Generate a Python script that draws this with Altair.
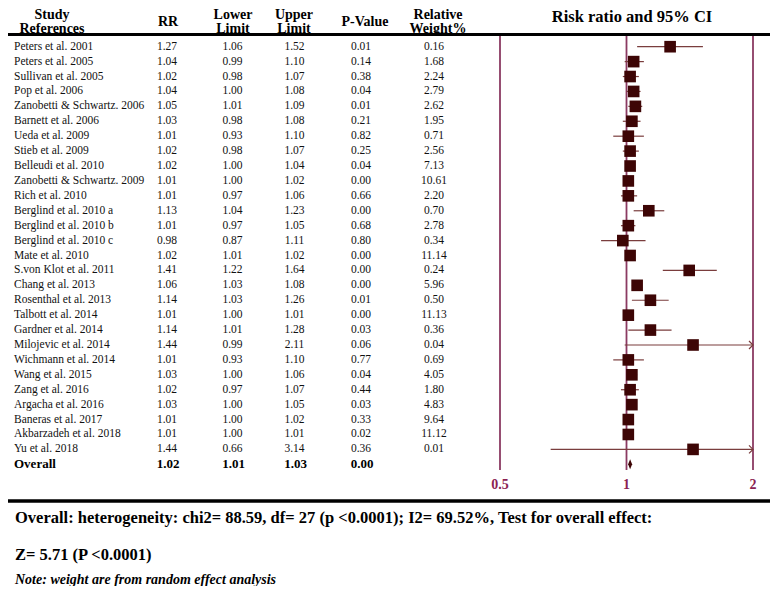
import altair as alt
import pandas as pd

# ---------------- data ----------------
studies = [
    "Peters et al. 2001", "Peters et al. 2005", "Sullivan et al. 2005", "Pop et al.  2006",
    "Zanobetti & Schwartz. 2006", "Barnett et al.  2006", "Ueda et al. 2009", "Stieb et al. 2009",
    "Belleudi et al. 2010", "Zanobetti & Schwartz. 2009", "Rich et al. 2010", "Berglind et al. 2010 a",
    "Berglind et al. 2010 b", "Berglind et al. 2010 c", "Mate et al. 2010", "S.von Klot et al. 2011",
    "Chang et al. 2013", "Rosenthal et al. 2013", "Talbott et al. 2014", "Gardner et al. 2014",
    "Milojevic et al. 2014", "Wichmann et al. 2014", "Wang et al. 2015", "Zang et al. 2016",
    "Argacha et al. 2016", "Baneras et al. 2017", "Akbarzadeh et al. 2018", "Yu et al. 2018",
]
rr = [1.27, 1.04, 1.02, 1.04, 1.05, 1.03, 1.01, 1.02, 1.02, 1.01, 1.01, 1.13, 1.01, 0.98,
      1.02, 1.41, 1.06, 1.14, 1.01, 1.14, 1.44, 1.01, 1.03, 1.02, 1.03, 1.01, 1.01, 1.44]
lower = [1.06, 0.99, 0.98, 1.00, 1.01, 0.98, 0.93, 0.98, 1.00, 1.00, 0.97, 1.04, 0.97, 0.87,
         1.01, 1.22, 1.03, 1.03, 1.00, 1.01, 0.99, 0.93, 1.00, 0.97, 1.00, 1.00, 1.00, 0.66]
upper = [1.52, 1.10, 1.07, 1.08, 1.09, 1.08, 1.10, 1.07, 1.04, 1.02, 1.06, 1.23, 1.05, 1.11,
         1.02, 1.64, 1.08, 1.26, 1.01, 1.28, 2.11, 1.10, 1.06, 1.07, 1.05, 1.02, 1.01, 3.14]
pval = [0.01, 0.14, 0.38, 0.04, 0.01, 0.21, 0.82, 0.25, 0.04, 0.00, 0.66, 0.00, 0.68, 0.80,
        0.00, 0.00, 0.00, 0.01, 0.00, 0.03, 0.06, 0.77, 0.04, 0.44, 0.03, 0.33, 0.02, 0.36]
weight = [0.16, 1.68, 2.24, 2.79, 2.62, 1.95, 0.71, 2.56, 7.13, 10.61, 2.20, 0.70, 2.78, 0.34,
          11.14, 0.24, 5.96, 0.50, 11.13, 0.36, 0.04, 0.69, 4.05, 1.80, 4.83, 9.64, 11.12, 0.01]

overall_label = ["Overall"]
overall_rr = [1.02]
overall_lower = [1.01]
overall_upper = [1.03]
overall_p = [0.00]

tick_values = [0.5, 1, 2]
tick_labels = ["0.5", "1", "2"]

title_text = "Risk ratio and 95% CI"
headers_two = [("Study", "References"), ("Lower", "Limit"), ("Upper", "Limit"), ("Relative", "Weight%")]
headers_one = ["RR", "P-Value"]
foot1 = "Overall:  heterogeneity: chi2= 88.59, df= 27 (p <0.0001); I2= 69.52%, Test for overall effect:"
foot2 = "Z= 5.71 (P <0.0001)"
note = "Note: weight are from random effect analysis"

# ---------------- styles / layout ----------------
FONT = "Liberation Serif"
W, H = 762, 578
SQ_COLOR = "#3d0505"
CI_COLOR = "#7a3d3d"
REF_COLOR = "#8b3a62"
TICK_COLOR = "#8b2252"

df = pd.DataFrame({"study": studies, "rr": rr, "lower": lower, "upper": upper,
                   "p": pval, "weight": weight})
ov = pd.DataFrame({"study": overall_label, "rr": overall_rr, "lower": overall_lower,
                   "upper": overall_upper, "p": overall_p})
ticks = pd.DataFrame({"v": tick_values, "lab": tick_labels})
one = pd.DataFrame({"k": [0]})

order = studies + overall_label
xs = alt.Scale(type="log", base=2, domain=[0.5, 2], range=[492, 745], clamp=True)
ys = alt.Scale(type="point", domain=order, range=[38.7, 456.3], padding=0)
Y = alt.Y("study:N", scale=ys, axis=None)

layers = []

# thick horizontal rules
for yy, sw in [(26.5, 3), (493, 3.5)]:
    layers.append(alt.Chart(one).mark_rule(color="#000000", strokeWidth=sw).encode(
        x=alt.value(0), x2=alt.value(W), y=alt.value(yy)))

# reference vertical lines at 0.5, 1, 2
layers.append(alt.Chart(ticks).mark_rule(color=REF_COLOR, strokeWidth=1.8).encode(
    x=alt.X("v:Q", scale=xs, axis=None), y=alt.value(28), y2=alt.value(462)))
layers.append(alt.Chart(ticks).mark_text(font=FONT, fontWeight="bold", fontSize=14,
                                         color=TICK_COLOR, baseline="middle").encode(
    x=alt.X("v:Q", scale=xs, axis=None), y=alt.value(477), text="lab:N"))

# CI lines, squares, arrows
layers.append(alt.Chart(df).mark_rule(color=CI_COLOR, strokeWidth=1.2).encode(
    x=alt.X("lower:Q", scale=xs, axis=None), x2="upper:Q", y=Y))
layers.append(alt.Chart(df).mark_square(color=SQ_COLOR, size=135, opacity=1).encode(
    x=alt.X("rr:Q", scale=xs, axis=None), y=Y))
layers.append(alt.Chart(df).transform_filter("datum.upper > 2").mark_point(
    shape="M-1,-1L0,0L-1,1", size=64, filled=False, color=CI_COLOR, strokeWidth=1.2,
    opacity=1).encode(x=alt.X("upper:Q", scale=xs, axis=None), y=Y))
# overall diamond
layers.append(alt.Chart(ov).mark_point(
    shape="M0,-1L0.4,0L0,1L-0.4,0Z", size=100, filled=True, color=SQ_COLOR, opacity=1).encode(
    x=alt.X("rr:Q", scale=xs, axis=None), y=Y))

# table text
col_x = {"rr": 159, "lower": 224.5, "upper": 286.5, "p": 353, "weight": 426}
layers.append(alt.Chart(df).mark_text(font=FONT, fontSize=11.5, align="left",
                                      baseline="middle", color="#111111").encode(
    x=alt.value(6), y=Y, text="study:N"))
for c, cx in col_x.items():
    layers.append(alt.Chart(df).mark_text(font=FONT, fontSize=11.5, align="center",
                                          baseline="middle", color="#111111").encode(
        x=alt.value(cx), y=Y, text=alt.Text(f"{c}:Q", format=".2f")))
layers.append(alt.Chart(ov).mark_text(font=FONT, fontSize=13, fontWeight="bold", align="left",
                                      baseline="middle", color="#000000").encode(
    x=alt.value(6), y=Y, text="study:N"))
for c in ["rr", "lower", "upper", "p"]:
    layers.append(alt.Chart(ov).mark_text(font=FONT, fontSize=13, fontWeight="bold",
                                          align="center", baseline="middle",
                                          color="#000000").encode(
        x=alt.value(col_x[c] + 1), y=Y, text=alt.Text(f"{c}:Q", format=".2f")))

# headers
hdr_x2 = [44, 225, 286, 430]
for (l1, l2), hx in zip(headers_two, hdr_x2):
    for txt, hy in [(l1, 7), (l2, 21)]:
        layers.append(alt.Chart(one).mark_text(text=txt, font=FONT, fontSize=14,
                                               fontWeight="bold", align="center",
                                               baseline="middle").encode(
            x=alt.value(hx), y=alt.value(hy)))
for txt, hx in zip(headers_one, [160, 357]):
    layers.append(alt.Chart(one).mark_text(text=txt, font=FONT, fontSize=14, fontWeight="bold",
                                           align="center", baseline="middle").encode(
        x=alt.value(hx), y=alt.value(14)))
layers.append(alt.Chart(one).mark_text(text=title_text, font=FONT, fontSize=16.5,
                                       fontWeight="bold", align="center",
                                       baseline="middle").encode(
    x=alt.value(624), y=alt.value(9)))

# footnotes
for txt, fy, fs, st in [(foot1, 510, 16.5, "normal"), (foot2, 547, 16.5, "normal"),
                        (note, 572, 14, "italic")]:
    layers.append(alt.Chart(one).mark_text(text=txt, font=FONT, fontSize=fs, fontWeight="bold",
                                           fontStyle=st, align="left",
                                           baseline="middle").encode(
        x=alt.value(7), y=alt.value(fy)))

chart = alt.layer(*layers).properties(
    width=W, height=H, padding=0, autosize=alt.AutoSizeParams(type="none")
).configure_view(stroke=None)

chart.save("out.html", embed_options={"renderer": "svg", "actions": False})
